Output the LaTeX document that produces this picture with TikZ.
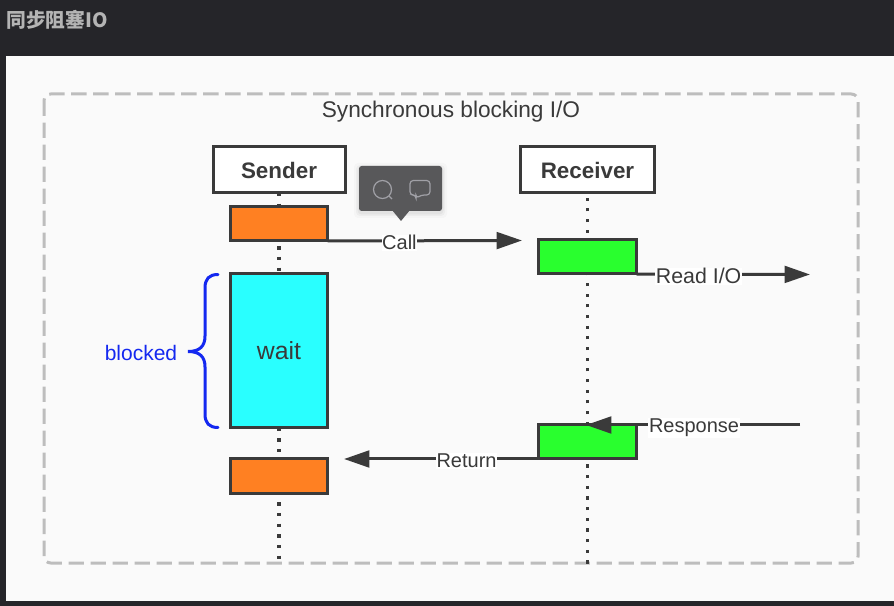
\documentclass[tikz,border=0pt]{standalone}
\usepackage{fontspec}
\setmainfont{Liberation Sans}
\newfontfamily\cjk{Noto Sans CJK SC}
\usetikzlibrary{arrows.meta}
\definecolor{ink}{HTML}{3A3A3A}
\definecolor{dark}{HTML}{252529}
\definecolor{paper}{HTML}{FAFAFA}
\definecolor{fr}{HTML}{BDBDBD}
\definecolor{orng}{HTML}{FF8022}
\definecolor{grn}{HTML}{29FF2E}
\definecolor{cyn}{HTML}{29FFFF}
\definecolor{blu}{HTML}{1428F0}
\definecolor{tip}{HTML}{58585A}
\definecolor{ico}{HTML}{A0A0A6}
\definecolor{ttl}{HTML}{B4B4B4}
\newcommand{\fs}[1]{\fontsize{#1}{#1}\selectfont}
\tikzset{
  x=0.75pt,y=-0.75pt,
  box/.style={draw=ink,line width=2.25pt,outer sep=0pt,inner sep=0pt,minimum width=#1},
  head/.style={box=132*0.75pt,minimum height=46*0.75pt,fill=white,text=ink,font=\fs{16.8}\bfseries},
  act/.style={box=97*0.75pt,minimum height=34*0.75pt},
  life/.style={ink,line width=2.6pt,dash pattern=on 2.4pt off 5.6pt},
  msg/.style={ink,line width=2.25pt,-{Triangle[length=19pt,width=12.5pt]}},
  lab/.style={fill=white,text=ink,inner sep=0.5pt,yshift=-1.5pt,font=\fs{15}},
}
\begin{document}
\begin{tikzpicture}
\useasboundingbox (0,0) rectangle (894,606);
\fill[dark] (0,0) rectangle (894,606);
\fill[paper] (6,56) rectangle (894,601);
\node[text=ttl,font=\fs{14.8}\bfseries\cjk,anchor=west,inner sep=0pt] (title) at (6,20) {同步阻塞IO};
\draw[fr,line width=2.25pt,dash pattern=on 11.5pt off 5pt,rounded corners=5pt] (44,94) rectangle (858,563);
\node[text=ink,font=\fs{17}] (caption) at (451,112) {Synchronous blocking I/O};
\coordinate (sEnd) at (279,564);
\coordinate (rEnd) at (587.5,563.5);
\coordinate (readEnd) at (810,274.5);
\coordinate (respStart) at (800,425);
\coordinate (respEnd) at (586,425);
\coordinate (retEnd) at (344,459);
\coordinate (callEnd) at (522,240.5);
\node[head] (sender) at (279,170) {\raisebox{-0.8pt}{Sender}};
\node[head,minimum width=134*0.75pt] (receiver) at (587.5,170) {\raisebox{-0.8pt}{Receiver}};
\draw[life] (sender.south) -- (sEnd);
\draw[life] (rEnd) -- (receiver.south);
\node[act,fill=orng] (o1) at (279,224) {};
\node[act,fill=cyn,minimum height=154*0.75pt,text=ink,font=\fs{18.6}] (wait) at (279,351) {\raisebox{-1.2pt}{wait}};
\node[act,fill=orng] (o2) at (279,476) {};
\node[act,fill=grn,minimum width=98*0.75pt] (g1) at (587.5,257) {};
\node[act,fill=grn,minimum width=98*0.75pt] (g2) at (587.5,442) {};
\draw[msg] (o1.south east) -- node[lab,pos=0.37] (call) {Call} (callEnd);
\draw[msg] (g1.south east) -- node[lab,pos=0.358,font=\fs{16}] (read) {Read I/O} (readEnd);
\draw[msg] (respStart) -- node[lab,pos=0.495,yshift=-0.7pt] (resp) {Response} (respEnd);
\draw[msg] (g2.south west) -- node[lab,pos=0.37] (ret) {Return} (retEnd);
\draw[blu,line width=2.25pt,line cap=round] (218,274.5) .. controls (209,274.5) and (205,279) .. (205,288) -- (205,336) .. controls (205,346) and (200,351.5) .. (188,351.5) .. controls (200,351.5) and (205,357) .. (205,367) -- (205,414) .. controls (205,423) and (209,427.5) .. (218,427.5);
\node[text=blu,font=\fs{15.75}] (blocked) at (141,353) {blocked};
% tooltip
\foreach \g/\o in {5/0.02,3/0.03,1.5/0.04}{
  \fill[black,opacity=\o,rounded corners=3pt] (359-\g,166-\g+2) rectangle (442+\g,211+\g+2);
}
\fill[tip,rounded corners=2pt] (359,166) rectangle (442,211);
\fill[tip] (392,210) -- (410,210) -- (401,221) -- cycle;
\draw[ico,line width=0.9pt] (382.5,189.5) circle (9);
\draw[ico,line width=0.9pt] (389,196) -- (392,199);
\draw[ico,line width=0.9pt,rounded corners=2.5pt] (410,180.5) -- (430,180.5) -- (430,195) -- (421,195) -- (416,198.5) -- (416,195) -- (410,195) -- cycle;
\end{tikzpicture}
\end{document}
